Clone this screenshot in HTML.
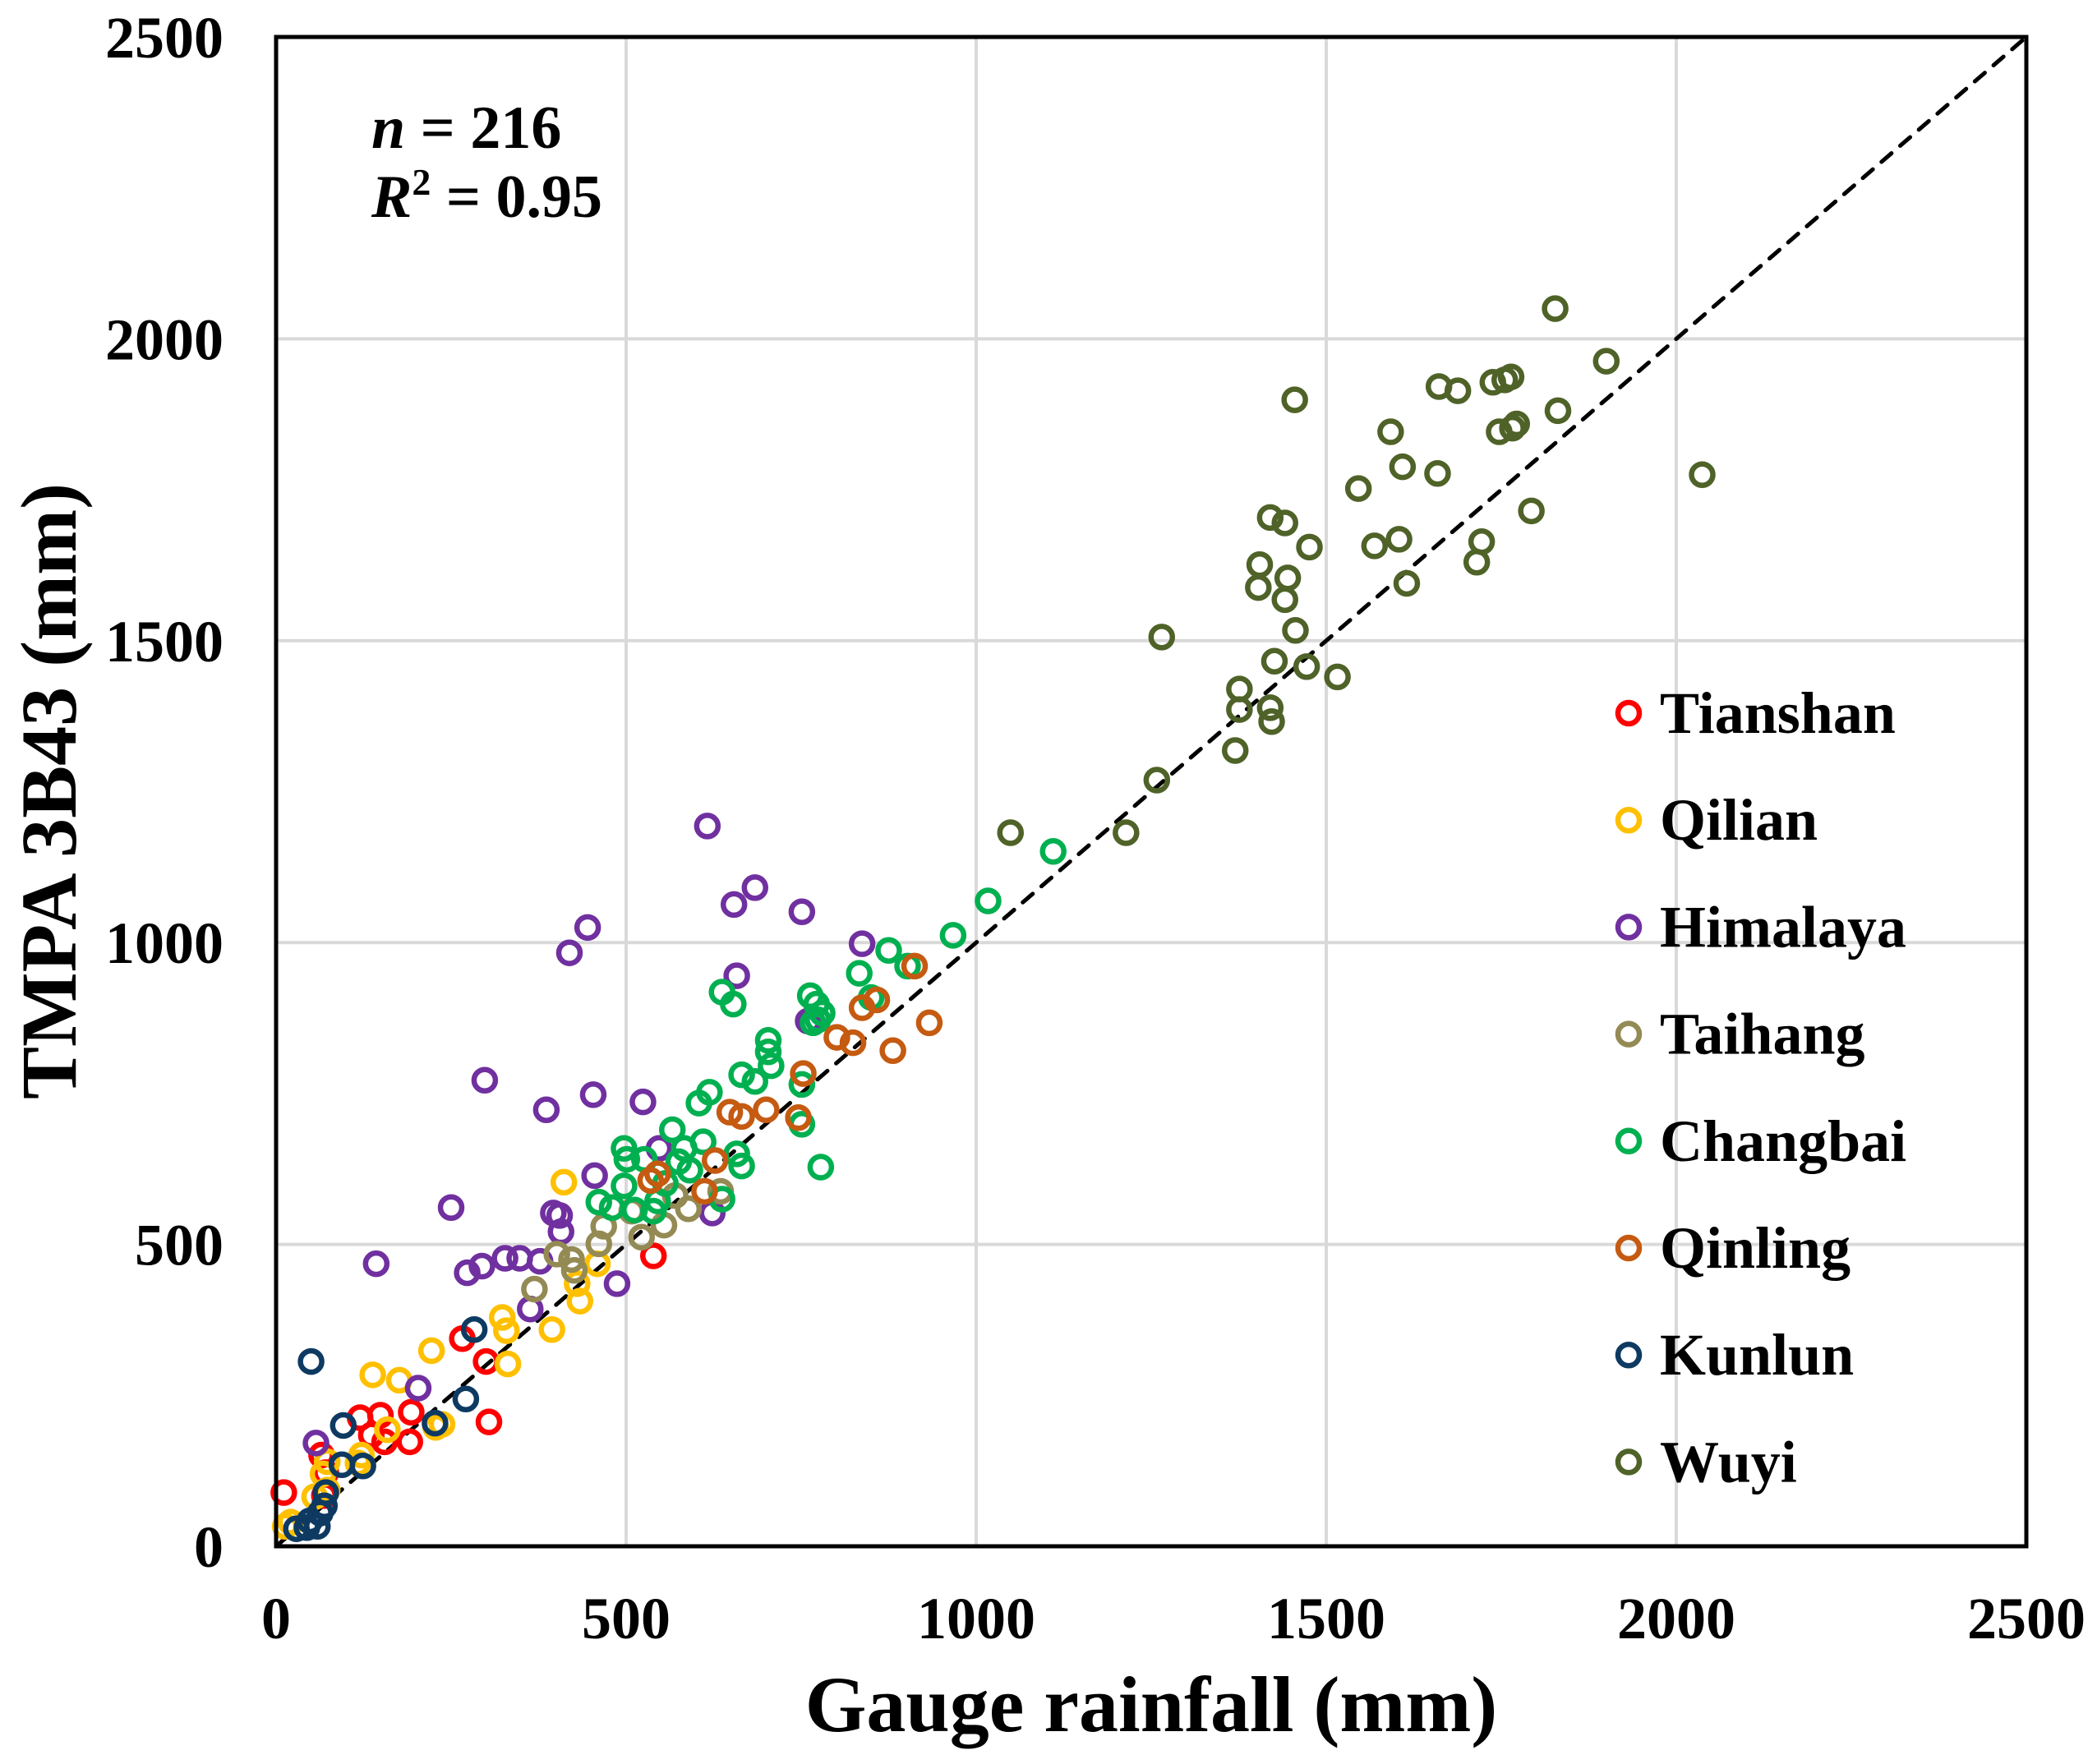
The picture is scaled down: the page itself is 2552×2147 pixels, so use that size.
<!DOCTYPE html>
<html><head><meta charset="utf-8">
<style>
html,body{margin:0;padding:0;background:#fff;}
svg{display:block;font-family:"Liberation Serif",serif;font-weight:bold;}
</style></head>
<body>
<svg id="chart" width="2552" height="2147" viewBox="0 0 2552 2147" xmlns="http://www.w3.org/2000/svg">
<g id="grid"></g>
<line id="diag" stroke="#000" stroke-width="5" stroke-dasharray="16,14" stroke-linecap="round"/>
<g id="pts"></g>
<rect id="frame" fill="none" stroke="#000" stroke-width="5"/>
<g id="ticks" font-size="72"></g>
<text x="1401" y="2107" font-size="96" text-anchor="middle">Gauge rainfall (mm)</text>
<text transform="translate(92,963) rotate(-90)" font-size="96" text-anchor="middle">TMPA 3B43 (mm)</text>
<text x="452" y="180" font-size="74"><tspan font-style="italic">n</tspan> = 216</text>
<text x="452" y="264" font-size="74"><tspan font-style="italic">R</tspan><tspan font-size="46" dy="-27">2</tspan><tspan dy="27"> = 0.95</tspan></text>
<g id="legend" font-size="72"></g>
</svg>
<script>
const L=336,R=2466,T=45,B=1882,MAX=2500;
const xs=v=>L+(R-L)*v/MAX, ys=v=>B-(B-T)*v/MAX;
const xTicks=[0,500,1000,1500,2000,2500];
const yTicks=[0,500,1000,1500,2000,2500];
const seriesNames=["Tianshan","Qilian","Himalaya","Taihang","Changbai","Qinling","Kunlun","Wuyi"];
const seriesColors=["#ff0000","#ffc000","#7030a0","#948a54","#00b050","#c55a11","#0e3a62","#4f6228"];
const tianshan=[[539,481],[266,344],[300,306],[304,206],[120,213],[149,217],[193,222],[136,184],[155,173],[191,173],[11,89],[65,151],[71,122],[69,84]];
const qilian=[[411,603],[459,468],[430,435],[434,406],[394,359],[323,379],[329,357],[331,302],[222,324],[176,275],[138,284],[237,202],[228,197],[122,151],[117,138],[73,140],[67,120],[73,93],[55,82],[13,33],[21,40],[159,193]];
const himalaya=[[616,1193],[684,1091],[654,1063],[751,1051],[445,1025],[419,983],[837,998],[658,945],[760,870],[298,772],[453,748],[524,736],[386,723],[250,561],[455,614],[396,552],[405,548],[407,521],[547,659],[143,468],[273,453],[294,464],[327,477],[348,477],[377,472],[487,435],[363,393],[203,262],[57,171],[623,552]];
const taihang=[[570,581],[589,559],[508,555],[554,532],[468,530],[522,512],[461,501],[401,484],[422,475],[426,457],[369,426],[635,588]];
const changbai=[[1110,1151],[1017,1069],[967,1012],[875,987],[902,961],[833,949],[637,918],[763,912],[653,898],[772,898],[850,909],[780,883],[767,867],[703,838],[703,819],[665,781],[684,770],[707,796],[751,765],[751,699],[619,752],[604,734],[566,690],[610,670],[583,659],[497,659],[501,641],[575,637],[526,641],[665,630],[591,623],[556,601],[497,597],[461,570],[480,561],[512,557],[545,572],[539,555],[637,575],[658,650],[774,872],[778,628]];
const qinling=[[912,961],[933,867],[858,905],[837,892],[801,843],[824,834],[881,821],[753,783],[746,710],[700,723],[648,719],[665,712],[627,639],[535,606],[545,617],[612,588]];
const kunlun=[[50,306],[283,359],[271,244],[96,200],[227,204],[124,133],[94,135],[71,89],[69,67],[63,55],[48,42],[29,29],[59,33],[44,31]];
const wuyi=[[1827,2050],[1900,1963],[1764,1937],[1755,1932],[1738,1928],[1661,1921],[1688,1914],[1455,1899],[1831,1881],[1772,1859],[1766,1852],[1747,1846],[1592,1846],[2037,1775],[1609,1788],[1659,1777],[1546,1752],[1793,1715],[1420,1704],[1441,1695],[1722,1664],[1604,1668],[1569,1657],[1476,1655],[1715,1630],[1405,1626],[1445,1604],[1403,1588],[1615,1595],[1441,1568],[1456,1517],[1265,1506],[1426,1466],[1472,1457],[1516,1440],[1376,1420],[1376,1386],[1420,1389],[1422,1366],[1370,1318],[1258,1269],[1214,1182],[1049,1182]];
const seriesData=[tianshan,qilian,himalaya,taihang,changbai,qinling,kunlun,wuyi];
const NS="http://www.w3.org/2000/svg";
function mk(tag,attrs,parent){const e=document.createElementNS(NS,tag);for(const k in attrs)e.setAttribute(k,attrs[k]);parent.appendChild(e);return e;}
const grid=document.getElementById('grid'),ticks=document.getElementById('ticks');
xTicks.forEach(v=>{
  if(v>0&&v<MAX){const g=mk('line',{x1:xs(v),x2:xs(v),y1:T,y2:B,stroke:'#d9d9d9','stroke-width':4},grid);
  
  }
  const t=mk('text',{x:xs(v),y:1994,'text-anchor':'middle'},ticks);t.textContent=v;
  
  
});
yTicks.forEach(v=>{
  if(v>0&&v<MAX){const g=mk('line',{x1:L,x2:R,y1:ys(v),y2:ys(v),stroke:'#d9d9d9','stroke-width':4},grid);
  
  }
  const t=mk('text',{x:272,y:ys(v)+25,'text-anchor':'end'},ticks);t.textContent=v;
  
  
});
const d=document.getElementById('diag');
d.setAttribute('x1',xs(0));d.setAttribute('y1',ys(0));d.setAttribute('x2',xs(MAX));d.setAttribute('y2',ys(MAX));
const f=document.getElementById('frame');
f.setAttribute('x',L);f.setAttribute('y',T);f.setAttribute('width',R-L);f.setAttribute('height',B-T);
const pts=document.getElementById('pts'),leg=document.getElementById('legend');
seriesData.forEach((arr,i)=>{
  const g=mk('g',{},pts);
  
  
  arr.forEach(p=>{
    const c=mk('circle',{cx:xs(p[0]),cy:ys(p[1]),r:13,fill:'none',stroke:seriesColors[i],'stroke-width':6.5},g);
    
    
  });
  const y=868+130.2*i;
  const m=mk('circle',{cx:1982,cy:y,r:13,fill:'none',stroke:seriesColors[i],'stroke-width':6.5},leg);
  
  
  const t=mk('text',{x:2020,y:y+24},leg);t.textContent=seriesNames[i];
  
  
});
</script>
</body></html>
